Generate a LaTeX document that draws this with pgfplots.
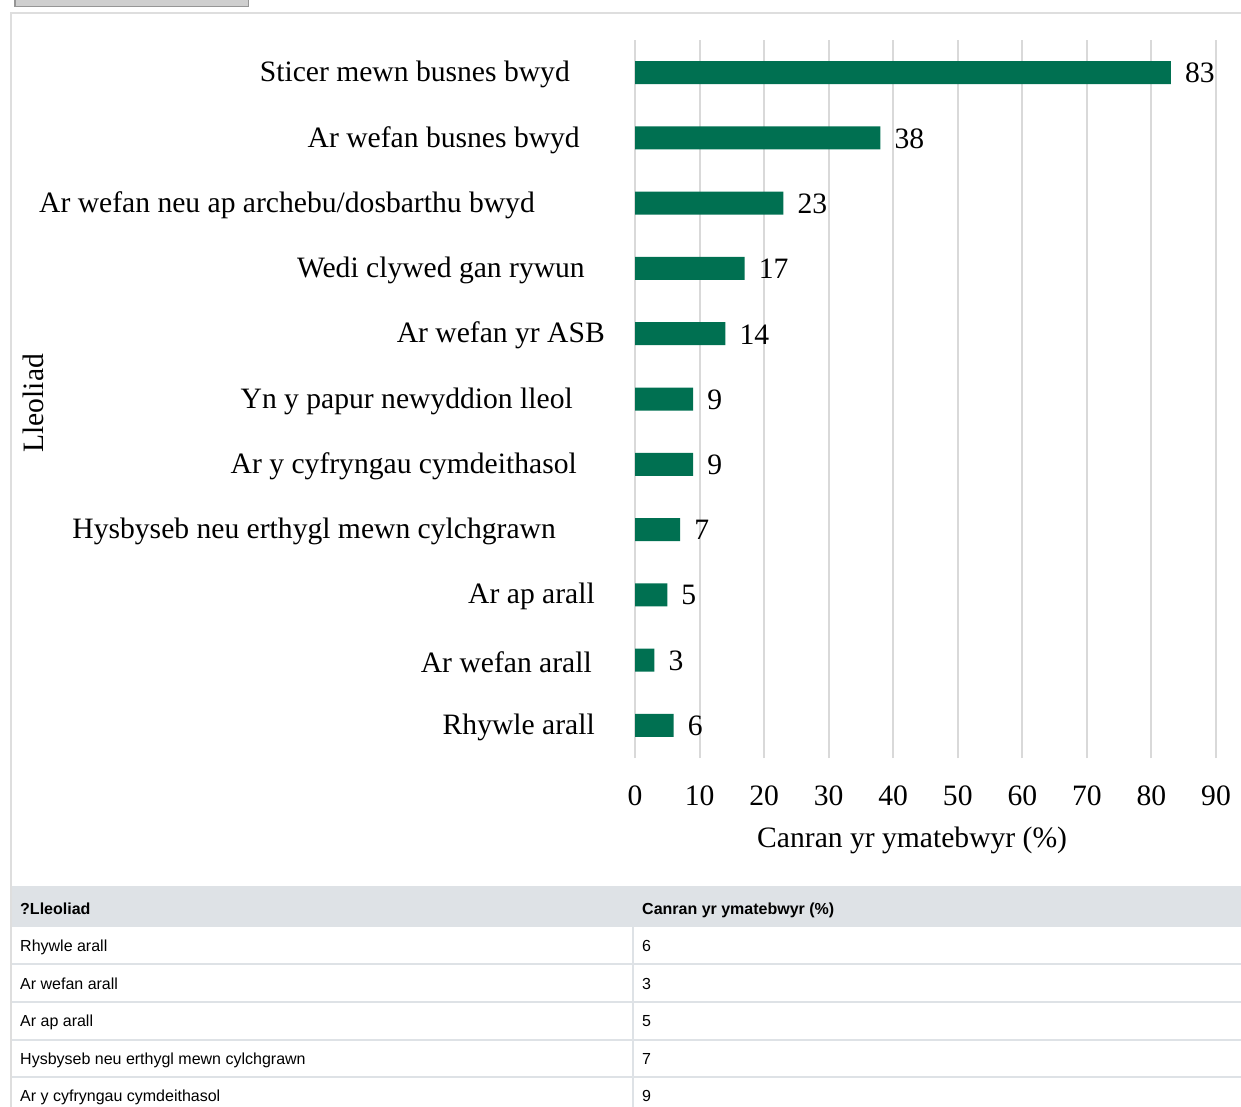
\documentclass[border=0pt]{standalone}
\usepackage{pgfplots}
\pgfplotsset{compat=1.18}
\usepackage{fontspec}
\setmainfont{Liberation Serif}
\newfontfamily\tablefont{Liberation Sans}
\definecolor{bargreen}{RGB}{0,112,81}
\definecolor{gridgray}{RGB}{217,217,217}
\definecolor{framegray}{RGB}{222,222,222}
\definecolor{headgray}{RGB}{222,226,230}
\definecolor{btnfill}{RGB}{207,207,207}
\definecolor{btndraw}{RGB}{150,150,150}
\newcommand{\bigfont}{\fontsize{29.6}{35}\selectfont}
\newcommand{\tabfont}{\tablefont\fontsize{16}{19}\selectfont}
\begin{document}
\begin{tikzpicture}
\useasboundingbox (0pt,0pt) rectangle (1241pt,-1106pt);
\clip (0pt,0pt) rectangle (1241pt,-1106pt);
\begin{scope}[x=1pt,y=1pt]
% button at top
\draw[btndraw, fill=btnfill, line width=1.5pt] (14.75,5) rectangle (248.5,-6.5);
% chart frame
\draw[framegray, line width=2pt] (11,-1110) -- (11,-13) -- (1250,-13);
% table
\fill[headgray] (12,-886) rectangle (1250,-927);
\foreach \y in {964,1002,1040,1077} \draw[headgray, line width=2pt] (12,-\y) -- (1250,-\y);
\draw[headgray, line width=2pt] (633,-927) -- (633,-1110);
\node[anchor=base west, inner sep=0pt, font=\tabfont\bfseries] at (20,-914.2) {?Lleoliad};
\node[anchor=base west, inner sep=0pt, font=\tabfont\bfseries] at (642,-914.2) {Canran yr ymatebwyr (\%)};
\node[anchor=base west, inner sep=0pt, font=\tabfont] at (20,-951.2) {Rhywle arall};
\node[anchor=base west, inner sep=0pt, font=\tabfont] at (642,-951.2) {6};
\node[anchor=base west, inner sep=0pt, font=\tabfont] at (20,-989.2) {Ar wefan arall};
\node[anchor=base west, inner sep=0pt, font=\tabfont] at (642,-989.2) {3};
\node[anchor=base west, inner sep=0pt, font=\tabfont] at (20,-1026.2) {Ar ap arall};
\node[anchor=base west, inner sep=0pt, font=\tabfont] at (642,-1026.2) {5};
\node[anchor=base west, inner sep=0pt, font=\tabfont] at (20,-1064.2) {Hysbyseb neu erthygl mewn cylchgrawn};
\node[anchor=base west, inner sep=0pt, font=\tabfont] at (642,-1064.2) {7};
\node[anchor=base west, inner sep=0pt, font=\tabfont] at (20,-1101.2) {Ar y cyfryngau cymdeithasol};
\node[anchor=base west, inner sep=0pt, font=\tabfont] at (642,-1101.2) {9};
\end{scope}
\begin{axis}[
  at={(635pt,-758pt)}, anchor=south west,
  scale only axis, width=581pt, height=718pt,
  xmin=0, xmax=90, ymin=-0.5, ymax=10.5,
  xbar, bar width=23pt, clip=false,
  axis line style={draw=none},
  major tick length=0pt,
  xtick={0,10,...,90}, ytick={0,1,...,10},
  yticklabels={
    {Rhywle arall\hspace*{40pt}},
    {Ar wefan arall\hspace*{43pt}},
    {Ar ap arall\hspace*{40pt}},
    {Hysbyseb neu erthygl mewn cylchgrawn\hspace*{79pt}},
    {Ar y cyfryngau cymdeithasol\hspace*{58pt}},
    {Yn y papur newyddion lleol\hspace*{62pt}},
    {Ar wefan yr ASB\hspace*{30pt}},
    {Wedi clywed gan rywun\hspace*{50pt}},
    {Ar wefan neu ap archebu/dosbarthu bwyd\hspace*{100pt}},
    {Ar wefan busnes bwyd\hspace*{55pt}},
    {Sticer mewn busnes bwyd\hspace*{65pt}}},
  xmajorgrids, grid style={gridgray, line width=2pt},
  /pgf/number format/assume math mode=true,
  tick label style={font=\bigfont},
  xticklabel style={anchor=base, inner sep=0pt, yshift=-47pt},
  yticklabel style={anchor=east, inner sep=0pt, yshift=-2pt},
  nodes near coords,
  nodes near coords style={anchor=west, inner sep=0pt, xshift=14pt, yshift=-0.5pt, font=\bigfont, /pgf/number format/assume math mode=true},
  xlabel={Canran yr ymatebwyr (\%)},
  xlabel style={at={(axis description cs:0.477,0)}, anchor=base, inner sep=0pt, yshift=-89pt, font=\bigfont},
  ylabel={Lleoliad},
  ylabel style={at={(axis description cs:-1.036,0.494)}, anchor=center, inner sep=0pt, font=\bigfont},
]
\addplot[fill=bargreen, draw=none] coordinates {
  (6,0) (3,1) (5,2) (7,3) (9,4) (9,5) (14,6) (17,7) (23,8) (38,9) (83,10)};
\end{axis}
\end{tikzpicture}
\end{document}
